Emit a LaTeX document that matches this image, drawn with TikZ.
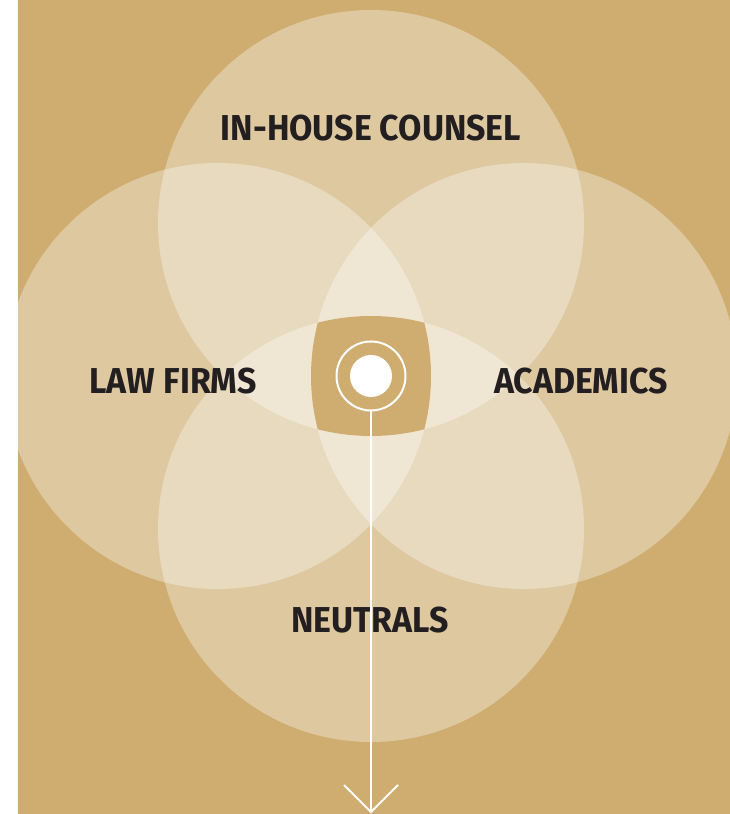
\documentclass[tikz,border=0pt]{standalone}
\usepackage{fontspec}
\setmainfont{Fira Sans}
\newfontfamily\groupfont{Fira Sans}[FakeStretch=0.94]
\usepackage{tikz}
\usetikzlibrary{calc}

\definecolor{sand}{RGB}{207,173,112}
\definecolor{ink}{RGB}{35,31,32}

\tikzset{
  group/.style={font=\groupfont\fontsize{27}{27}\selectfont\bfseries, text=ink, inner sep=0pt},
  petal/.style={fill=white, fill opacity=0.33}
}

\begin{document}
\begin{tikzpicture}[x=0.75pt, y=0.75pt]
        \useasboundingbox (0,0) rectangle (730,814);
        \fill[sand] (18,0) rectangle (730,814);

        \begin{scope}
        \clip (18,0) rectangle (730,814);
        \fill[petal] (371,591) circle (159.75pt);
        \fill[petal] (371,285) circle (159.75pt);
        \fill[petal] (218,438) circle (159.75pt);
        \fill[petal] (524,438) circle (159.75pt);
        \end{scope}

        % part shared by all four
        \begin{scope}
        \clip (371,591) circle (159.75pt);
        \clip (371,285) circle (159.75pt);
        \clip (218,438) circle (159.75pt);
        \clip (524,438) circle (159.75pt);
        \fill[sand] (300,360) rectangle (440,520);
        \end{scope}

        \node[group] (inhouse) at (371,686) {IN-HOUSE COUNSEL};
        \node[group] (lawfirms) at (173,433) {LAW FIRMS};
        \node[group] (academics) at (581,433) {ACADEMICS};
        \node[group] (neutrals) at (370,194) {NEUTRALS};

        \fill[white] (371,438) circle (15.75pt);
        \node[circle, draw=white, line width=1.5pt, minimum size=51.75pt, inner sep=0pt] (hub) at (371,438) {};
        \coordinate (tip) at (371,2);
        \draw[white, line width=1.5pt] (hub.south) -- (tip);
        \draw[white, line width=1.5pt] ($(tip)+(-27,27)$) -- (tip) -- ($(tip)+(27,27)$);
\end{tikzpicture}
\end{document}
